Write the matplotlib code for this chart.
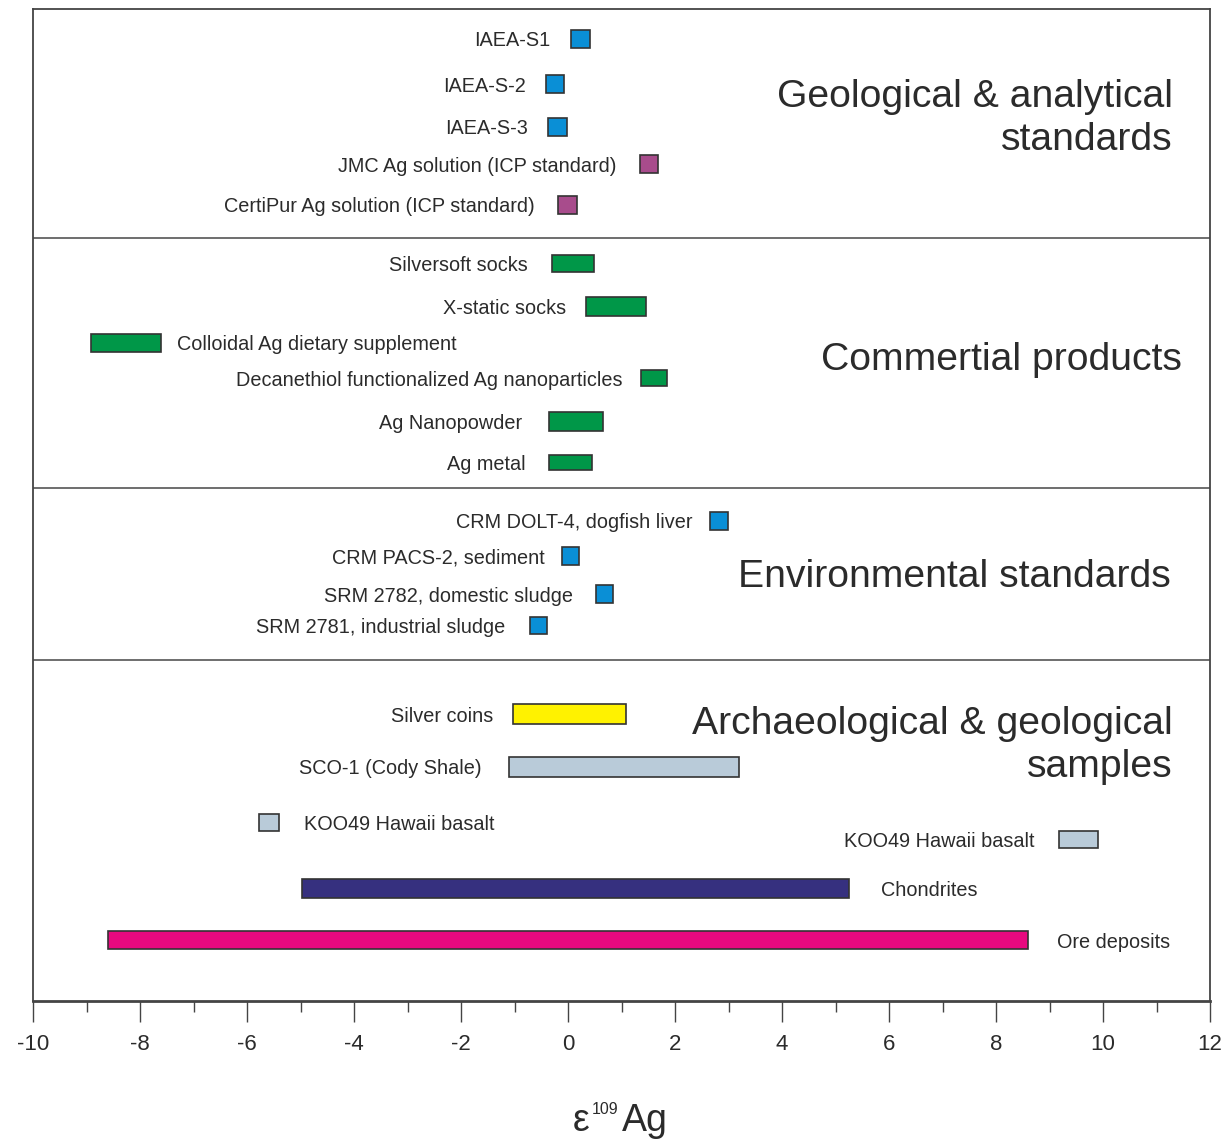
import matplotlib
matplotlib.use("Agg")
import matplotlib.pyplot as plt
from matplotlib.ticker import MultipleLocator

plt.rcParams["font.family"] = ["Liberation Sans", "DejaVu Sans"]
plt.rcParams["mathtext.default"] = "regular"

# ε109Ag ranges (low, high) for each sample
samples = [
    "IAEA-S1", "IAEA-S-2", "IAEA-S-3",
    "JMC Ag solution (ICP standard)", "CertiPur Ag solution (ICP standard)",
    "Silversoft socks", "X-static socks", "Colloidal Ag dietary supplement",
    "Decanethiol functionalized Ag nanoparticles", "Ag Nanopowder", "Ag metal",
    "CRM DOLT-4, dogfish liver", "CRM PACS-2, sediment",
    "SRM 2782, domestic sludge", "SRM 2781, industrial sludge",
    "Silver coins", "SCO-1 (Cody Shale)", "KOO49 Hawaii basalt",
    "KOO49 Hawaii basalt", "Chondrites", "Ore deposits",
]
low = [
    0.06, -0.41, -0.37, 1.35, -0.19,
    -0.30, 0.34, -8.92, 1.36, -0.36, -0.36,
    2.65, -0.11, 0.52, -0.71,
    -1.03, -1.10, -5.78, 9.18, -4.97, -8.60,
]
high = [
    0.41, -0.07, -0.02, 1.68, 0.17,
    0.49, 1.46, -7.61, 1.85, 0.65, 0.45,
    2.99, 0.21, 0.84, -0.39,
    1.08, 3.20, -5.40, 9.91, 5.25, 8.60,
]
group_titles = [
    "Geological & analytical\nstandards",
    "Commertial products",
    "Environmental standards",
    "Archaeological & geological\nsamples",
]
x_ticks = [-10, -8, -6, -4, -2, 0, 2, 4, 6, 8, 10, 12]

# Layout: row centres (top-down units), label side and gap (px)
row_y = [30, 75, 118, 155, 196,
         254.5, 297.5, 334, 369, 412.5, 453.5,
         512, 547, 585, 616.5,
         705, 758, 813.5, 830.5, 879.5, 931]
label_side = ["L"] * 7 + ["R"] + ["L"] * 9 + ["R", "L", "R", "R"]
label_gap = [21, 20, 20, 24, 23,
             24, 20, 16, 18, 27, 23,
             17, 17, 23, 25,
             20, 28, 25, 25, 32, 29]
bar_h = [18, 18, 18, 18, 18,
         17, 19, 18, 16, 19, 15,
         18, 18, 18, 17,
         20, 20, 17, 17, 19, 18]
dividers = [229, 479, 651]
title_pos = [(1173, 109.5), (1182, 351), (1171, 568), (1173, 736.5)]

blue = "#0a8fd6"
purple = "#a84c8c"
green = "#009748"
colors = [blue, blue, blue, purple, purple,
          green, green, green, green, green, green,
          blue, blue, blue, blue,
          "#fff200", "#b9cbd9", "#b9cbd9", "#b9cbd9", "#36307f", "#e8097f"]

text_color = "#2b2b2b"
edge = "#333333"

W, H = 1230, 1140
fig = plt.figure(figsize=(W / 100, H / 100), dpi=100)
ax = fig.add_axes([33 / W, 1 - 1001 / H, 1177 / W, 992 / H])
ax.set_xlim(-10, 12)
ax.set_ylim(992, 0)

px_per_unit = 1177 / 22.0
pt_per_px = 72 / 100.0

for name, lo, hi, y, side, gap, h, c in zip(samples, low, high, row_y,
                                             label_side, label_gap, bar_h, colors):
    ax.barh(y, hi - lo, left=lo, height=h, color=c, edgecolor=edge,
            linewidth=1.2, zorder=3)
    if side == "L":
        ax.annotate(name, xy=(lo, y), xytext=(-gap * pt_per_px, -2.0 * pt_per_px),
                    textcoords="offset points", ha="right", va="center",
                    fontsize=14.3, color=text_color)
    else:
        ax.annotate(name, xy=(hi, y), xytext=(gap * pt_per_px, -2.0 * pt_per_px),
                    textcoords="offset points", ha="left", va="center",
                    fontsize=14.3, color=text_color)

for d in dividers:
    ax.axhline(d, color="#555555", linewidth=1.2, zorder=2)

for title, (xp, yp) in zip(group_titles, title_pos):
    xv = (xp - 33) / px_per_unit - 10
    ax.text(xv, yp, title, ha="right", va="center", fontsize=28.2,
            color=text_color, linespacing=1.25, multialignment="right")

for s in ax.spines.values():
    s.set_color("#444444")
    s.set_linewidth(1.3)
ax.spines["bottom"].set_linewidth(2.0)

ax.set_yticks([])
ax.set_xticks(x_ticks)
ax.set_xticklabels([str(t) for t in x_ticks])
ax.xaxis.set_minor_locator(MultipleLocator(1))
ax.tick_params(axis="x", which="major", direction="out", length=15, width=1,
               color="#444444", labelsize=16, labelcolor=text_color, pad=9)
ax.tick_params(axis="x", which="minor", direction="out", length=8, width=1,
               color="#444444")

# Axis title: ε with a small raised mass number, then Ag
base = 1 - 1131 / H
fig.text(573 / W, base, "ε", ha="left", va="baseline", fontsize=27,
         color=text_color)
fig.text(592 / W, 1 - 1114 / H, "109", ha="left", va="baseline", fontsize=11.5,
         color=text_color)
fig.text(622 / W, base, "Ag", ha="left", va="baseline", fontsize=27,
         color=text_color)

fig.savefig("out.png", dpi=100)
